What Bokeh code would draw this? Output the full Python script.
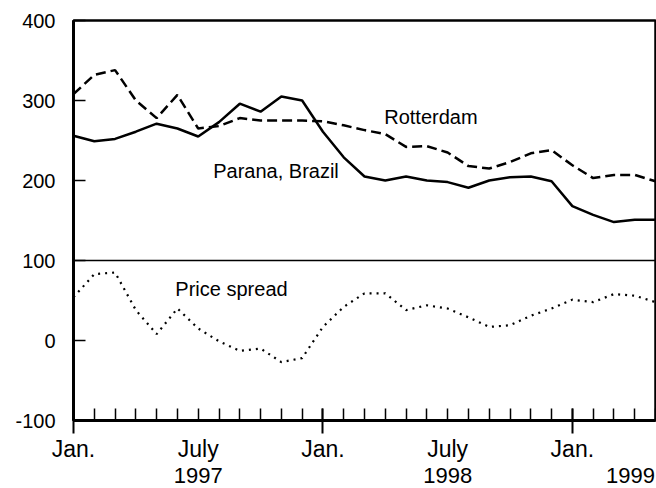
from bokeh.plotting import figure
from bokeh.models import FixedTicker, LinearAxis, Span, Range1d, ColumnDataSource
from bokeh.core.properties import value
from bokeh.embed import file_html
from bokeh.resources import INLINE

# month index: 0 = Jan 1997 ... 28 = May 1999
months = list(range(29))
rotterdam = [308, 332, 338, 300, 278, 307, 265, 268, 278, 275, 275, 275, 274, 269, 263,
             258, 242, 243, 235, 218, 215, 223, 234, 238, 219, 203, 207, 207, 199]
parana = [256, 249, 252, 261, 271, 265, 255, 273, 296, 286, 305, 300, 261, 229, 205,
          200, 205, 200, 198, 191, 200, 204, 205, 199, 168, 157, 148, 151, 151]
spread = [54, 83, 85, 38, 8, 40, 15, -1, -13, -10, -27, -22, 17, 42, 59,
          59, 38, 44, 40, 29, 17, 19, 31, 40, 51, 48, 58, 56, 48]

y_ticks = [-100, 0, 100, 200, 300, 400]
y_tick_labels = ["-100", "0", "100", "200", "300", "400"]
jan_ticks = [0, 12, 24]
month_label_ticks = [0, 6, 12, 18, 24]
month_labels = ["Jan.", "July", "Jan.", "July", "Jan."]
year_ticks = [6, 18, 26.8]
year_labels = ["1997", "1998", "1999"]
reference_level = 100

series_labels = ["Rotterdam", "Parana, Brazil", "Price spread"]
series_label_x = [14.95, 6.72, 4.9]
series_label_y = [279, 212, 64]

FONT = "Liberation Sans"

src = ColumnDataSource(dict(m=months, r=rotterdam, p=parana, s=spread))

p = figure(frame_width=582, frame_height=400,
           x_range=Range1d(0, 28), y_range=Range1d(-100, 400),
           output_backend="svg", toolbar_location=None,
           min_border_left=73, min_border_right=1, min_border_top=20, min_border_bottom=66,
           background_fill_color="white", border_fill_color="white")
p.grid.visible = False
p.outline_line_color = "black"
p.outline_line_width = 2.5

# y axis
ya = p.yaxis[0]
ya.ticker = FixedTicker(ticks=y_ticks, minor_ticks=[])
ya.major_label_overrides = dict(zip(y_ticks, y_tick_labels))
ya.axis_line_width = 3
ya.major_tick_in = 12
ya.major_tick_out = 0
ya.major_tick_line_width = 1.5
ya.major_label_standoff = 18
ya.major_label_text_font = FONT
ya.major_label_text_font_size = "20px"
ya.major_label_text_color = "black"

# x axis: ticks only
xa = p.xaxis[0]
xa.ticker = FixedTicker(ticks=jan_ticks, minor_ticks=months)
xa.axis_line_width = 3
xa.major_tick_in = 12
xa.major_tick_out = 13
xa.major_tick_line_width = 2
xa.minor_tick_in = 12
xa.minor_tick_out = 0
xa.minor_tick_line_width = 1.5
xa.major_label_overrides = {t: " " for t in jan_ticks}
xa.major_label_text_font_size = "1px"
xa.major_label_standoff = 0

# month labels
ma = LinearAxis(ticker=FixedTicker(ticks=month_label_ticks, minor_ticks=[]),
                major_label_overrides=dict(zip(month_label_ticks, month_labels)),
                axis_line_color=None, major_tick_line_color=None, minor_tick_line_color=None,
                major_label_standoff=-8, major_label_text_font=FONT,
                major_label_text_font_size="23px", major_label_text_color="black")
p.add_layout(ma, "below")

# year labels
yra = LinearAxis(ticker=FixedTicker(ticks=year_ticks, minor_ticks=[]),
                 major_label_overrides=dict(zip(year_ticks, year_labels)),
                 axis_line_color=None, major_tick_line_color=None, minor_tick_line_color=None,
                 major_label_standoff=-3, major_label_text_font=FONT,
                 major_label_text_font_size="22px", major_label_text_color="black")
p.add_layout(yra, "below")

p.add_layout(Span(location=reference_level, dimension="width", line_color="black", line_width=1.5))

p.line("m", "p", source=src, line_color="black", line_width=2.5)
p.line("m", "r", source=src, line_color="black", line_width=2.5, line_dash="10 5")
p.line("m", "s", source=src, line_color="black", line_width=2.2, line_dash="2 5")

p.text(x=series_label_x, y=series_label_y, text=series_labels,
       text_font=value(FONT), text_font_size="20px", text_color="black",
       text_align="left", text_baseline="middle")

open("out.html", "w").write(file_html(p, INLINE))
